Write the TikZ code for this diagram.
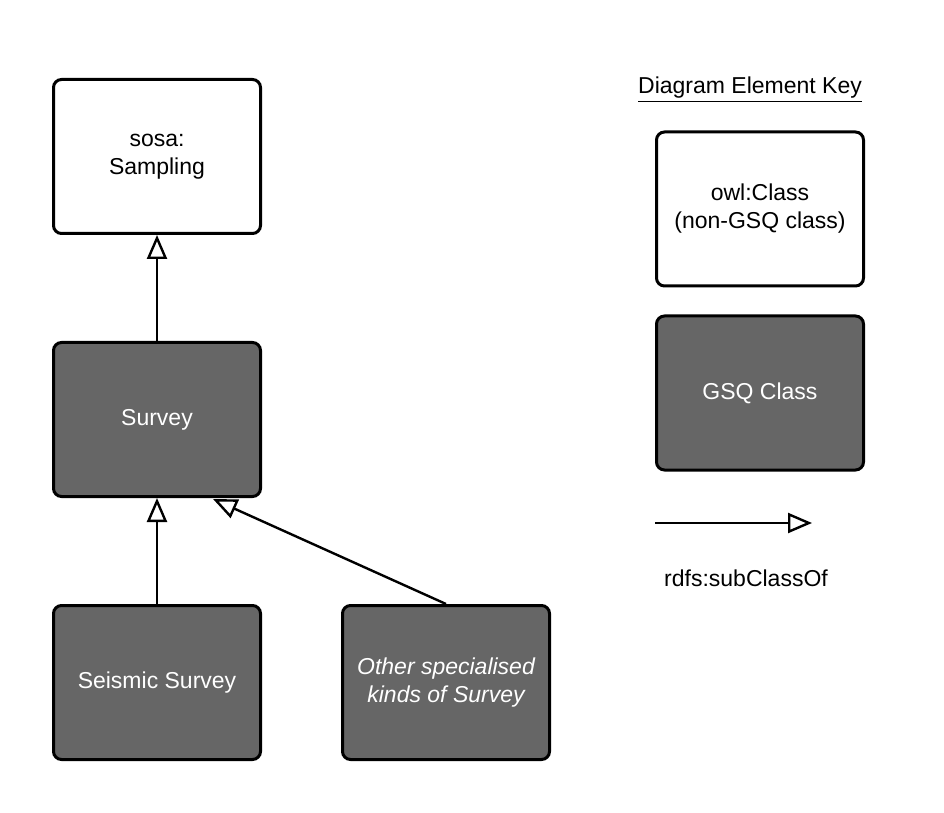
\documentclass[tikz,border=0pt]{standalone}
\usepackage{fontspec}
\setmainfont{Liberation Sans}
\usetikzlibrary{positioning}
\usetikzlibrary{arrows.meta}
\usetikzlibrary{calc}

\definecolor{gsqgrey}{HTML}{666666}

\begin{document}
\begin{tikzpicture}
				[x=0.5pt,y=-0.5pt,
					every node/.style={font=\fontsize{11.5}{14}\selectfont},
					cls/.style={rectangle,rounded corners=4pt,draw=black,line width=1.5pt,
						minimum width=103.5pt,minimum height=77pt,align=center,fill=white},
					gsq/.style={cls,fill=gsqgrey,text=white},
					sub/.style={line width=1.2pt,-{Triangle[open,length=12pt,width=10pt,line width=1.2pt]}},
				node distance=53pt]
				\useasboundingbox (0,0) rectangle (944,813);
				\node (smp) [cls] at (157,156.5) {sosa:\\Sampling};
				\node (srv) [gsq,below=of smp] {Survey};
				\node (ssm) [gsq,below=of srv] {Seismic Survey};
				\node (oth) [gsq,right=39.5pt of ssm] {\itshape Other specialised\\\itshape kinds of Survey};
				\coordinate (srvin) at ($(srv.south)+(56,1)$);
				\draw [sub] (srv) -- (smp);
				\draw [sub] (ssm) -- (srv);
				\draw [sub] (oth.north) -- (srvin);
				% key
				\node (keyt) at (750,90) {\underline{Diagram Element Key}};
				\node (key1) [cls] at (760,209) {owl:Class\\(non-GSQ class)};
				\node (key2) [gsq] at (760,393) {GSQ Class};
				\coordinate (ka) at (655,523);
				\coordinate (kb) at (812,523);
				\draw [sub] (ka) -- (kb);
				\node (keyl) at (746,578) {rdfs:subClassOf};
			\end{tikzpicture}
\end{document}
